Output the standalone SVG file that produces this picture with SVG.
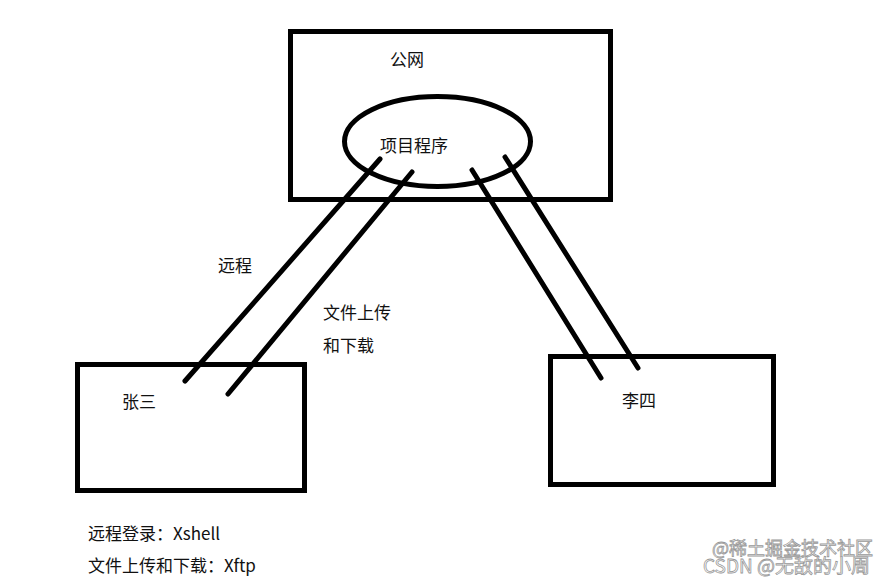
<svg xmlns="http://www.w3.org/2000/svg" width="890" height="581" viewBox="0 0 890 581">
<style>
.box{fill:none;stroke:#000;stroke-width:5}
.t{font-family:"Noto Sans CJK SC","Microsoft YaHei",sans-serif;font-size:17px;fill:#111}
.ln{stroke:#000;stroke-width:5;stroke-linecap:round}
.wm{font-family:"Noto Sans CJK SC",sans-serif;fill:#fff;stroke:#999;stroke-width:0.8}
</style>
<rect width="890" height="581" fill="#fff"/>
<g id="public-net">
<rect class="box" x="290.5" y="31.5" width="320" height="168"/>
<text class="t" x="390" y="66">公网</text>
</g>
<g id="program">
<ellipse cx="437.5" cy="141.5" rx="93" ry="45" fill="none" stroke="#000" stroke-width="5"/>
<text class="t" x="380" y="152">项目程序</text>
</g>
<g id="zhangsan">
<rect class="box" x="77.5" y="364.5" width="227" height="126"/>
<text class="t" x="122" y="408">张三</text>
</g>
<g id="lisi">
<rect class="box" x="550.5" y="356.5" width="223" height="128"/>
<text class="t" x="622" y="407">李四</text>
</g>
<g id="connectors">
<line class="ln" x1="380" y1="159" x2="185" y2="381"/>
<line class="ln" x1="412" y1="172" x2="228" y2="394"/>
<line class="ln" x1="472" y1="170" x2="601" y2="378"/>
<line class="ln" x1="505" y1="157" x2="638" y2="368"/>
</g>
<g id="labels">
<text class="t" x="218" y="272">远程</text>
<text class="t" x="323" y="319">文件上传</text>
<text class="t" x="323" y="352">和下载</text>
<text class="t" x="88" y="540">远程登录：Xshell</text>
<text class="t" x="88" y="572">文件上传和下载：Xftp</text>
</g>
<g id="watermark">
<text class="wm" x="712" y="555" font-size="18">@稀土掘金技术社区</text>
<text class="wm" x="703" y="573" font-size="19">CSDN @无敌的小周</text>
</g>
</svg>
